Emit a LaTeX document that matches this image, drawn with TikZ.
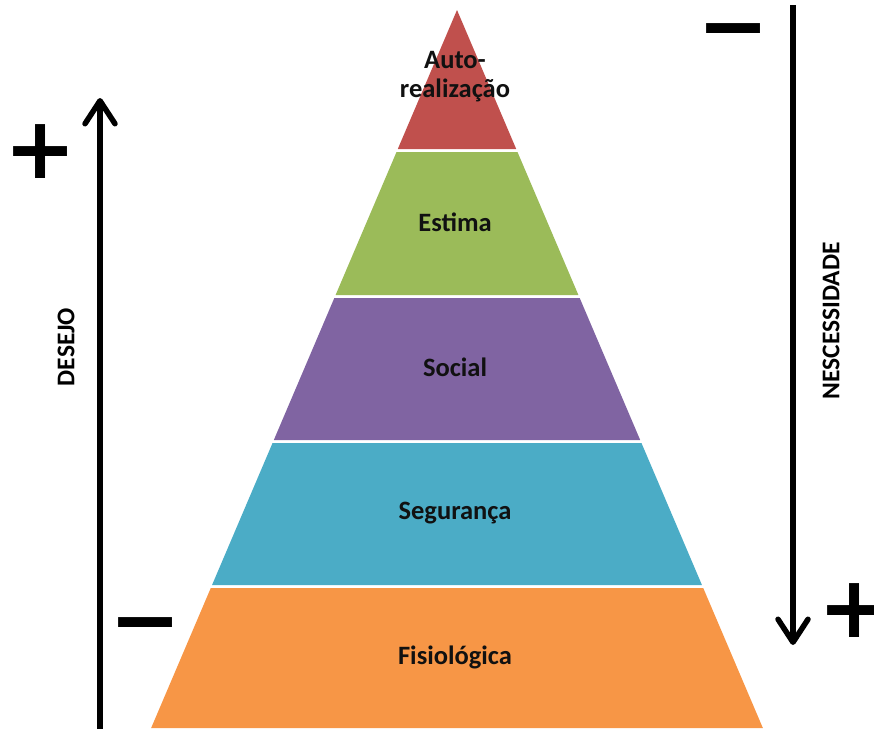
\documentclass[tikz,border=0pt]{standalone}
\usepackage{fontspec}
\setmainfont{Carlito}
\newfontfamily\signfont{DejaVu Sans}
\usetikzlibrary{arrows.meta}

\definecolor{lvred}{HTML}{C0504D}
\definecolor{lvgreen}{HTML}{9BBB59}
\definecolor{lvpurple}{HTML}{8064A2}
\definecolor{lvblue}{HTML}{4BACC6}
\definecolor{lvorange}{HTML}{F79646}
\definecolor{ink}{HTML}{111111}

% one band of the pyramid between two heights (apex at 457,10)
\newcommand\pyrband[3]{%
  \fill[#3] ({457-0.426*(#1-10)},#1) -- ({457+0.426*(#1-10)},#1)
    -- ({457+0.426*(#2-10)},#2) -- ({457-0.426*(#2-10)},#2) -- cycle;}

\begin{document}
\begin{tikzpicture}[x=1pt,y=-1pt,
  level/.style={font=\bfseries\fontsize{26.5}{29}\selectfont, text=ink, align=center, inner sep=0pt},
  sidelabel/.style={font=\bfseries\fontsize{25.5}{29}\selectfont, text=black, inner sep=0pt, rotate=90},
  sign/.style={font=\signfont\bfseries\fontsize{86}{86}\selectfont, text=black, inner sep=0pt},
  trend/.style={line width=5.5pt, draw=black,
    -{Straight Barb[length=23pt,width=30pt,round]}}]
\useasboundingbox (0,0) rectangle (874,728);

% pyramid levels
\fill[lvred] (457,10) -- ({457+0.426*139},149) -- ({457-0.426*139},149) -- cycle;
\pyrband{152}{295}{lvgreen}
\pyrband{298}{440}{lvpurple}
\pyrband{443}{585}{lvblue}
\pyrband{588}{728}{lvorange}

\node[level] (auto)   at (455,77)  {Auto-\\realização};
\node[level] (estima) at (455,222) {Estima};
\node[level] (social) at (455,367) {Social};
\node[level] (segur)  at (455,513) {Segurança};
\node[level] (fisio)  at (455,657) {Fisiológica};

% desire grows upwards
\coordinate (dlow) at (100,740);
\coordinate (dhigh) at (100,98);
\draw[trend] (dlow) -- (dhigh);
\node[sidelabel] (desejo) at (66,347) {DESEJO};

% need grows downwards
\coordinate (nhigh) at (793,5);
\coordinate (nlow) at (793,645);
\draw[trend] (nhigh) -- (nlow);
\node[sidelabel] (necess) at (831,321) {NESCESSIDADE};

% signs
\node[sign] (plusL)  at (41,152)  {+};
\node[sign] (minusL) at (146,623) {\rlap{−}\phantom{+}};
\node[sign] (minusR) at (734,29)  {\rlap{−}\phantom{+}};
\node[sign] (plusR)  at (855,611) {+};
\end{tikzpicture}
\end{document}
